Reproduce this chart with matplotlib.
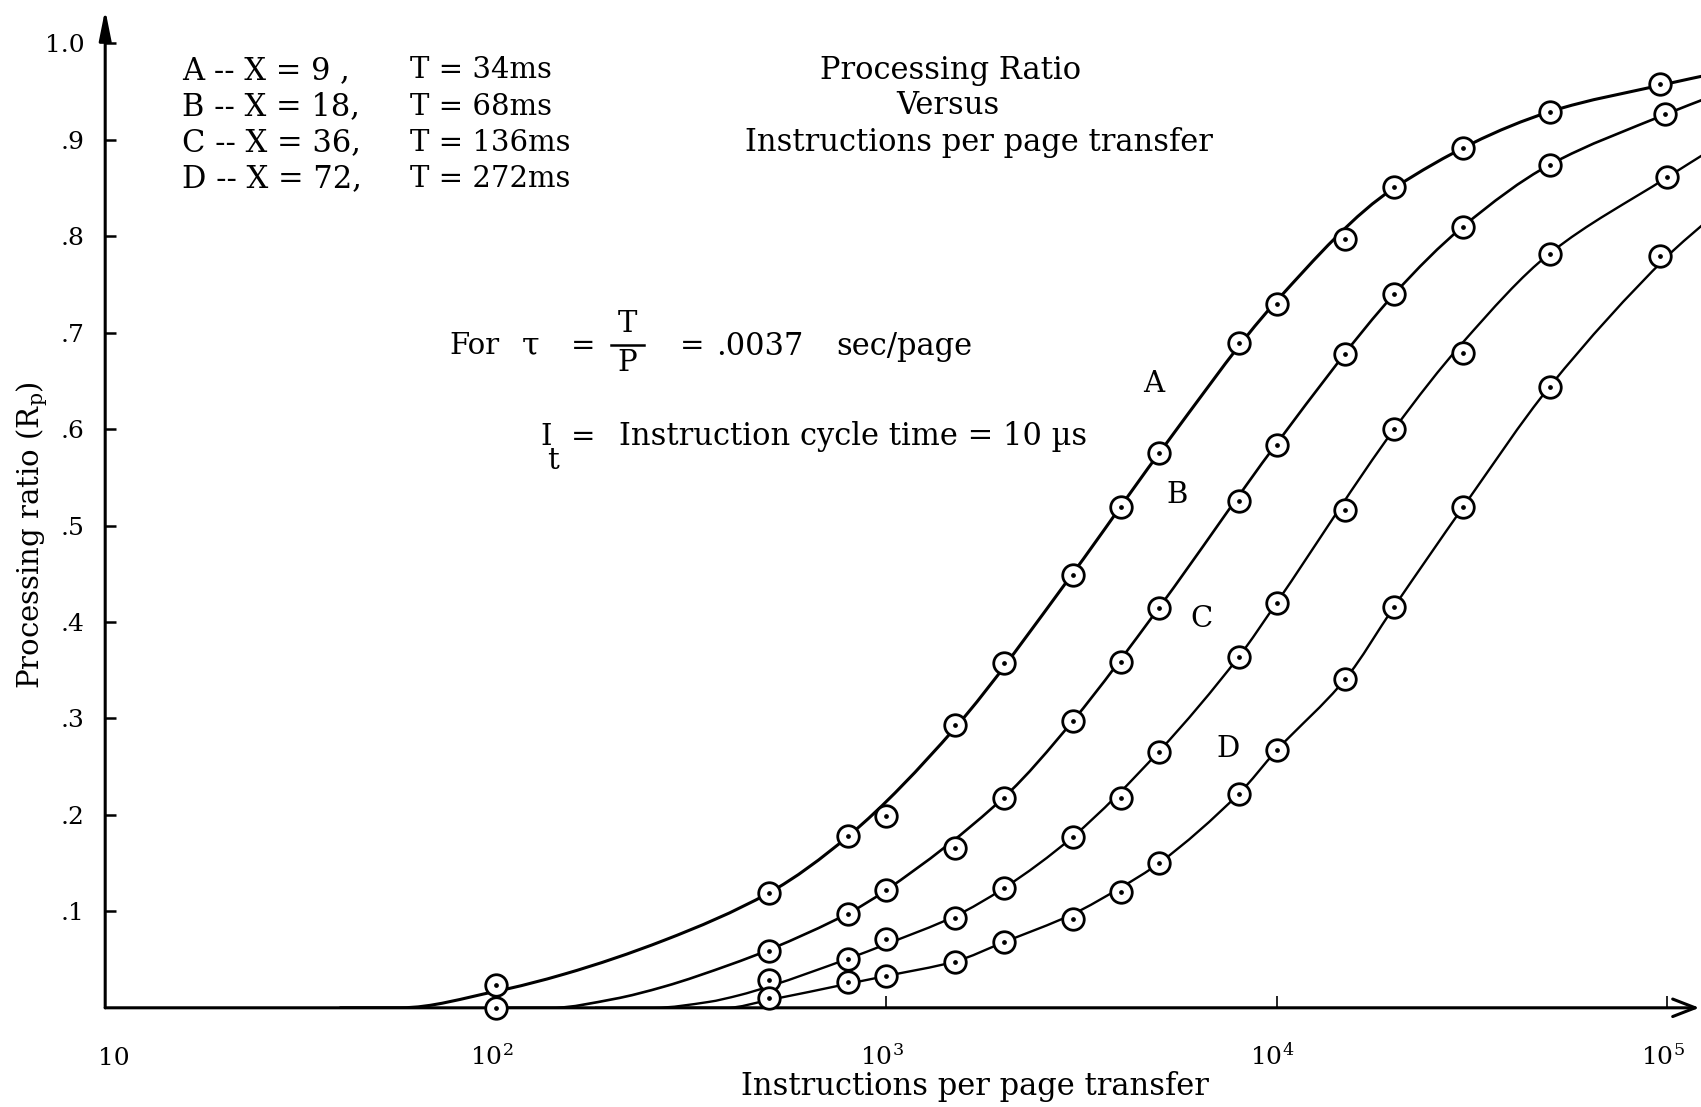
import numpy as np
import matplotlib
matplotlib.use("Agg")
import matplotlib.pyplot as plt
from matplotlib.path import Path
from matplotlib.patches import PathPatch
from matplotlib.transforms import offset_copy

plt.rcParams["font.family"] = "DejaVu Serif"
plt.rcParams["mathtext.fontset"] = "dejavuserif"

# measured points (instructions per page transfer, processing ratio)
A_X = [100, 500, 800, 1000, 1500, 2000, 3000, 4000, 5000, 8000, 10000, 15000, 20000, 30000, 50000, 96000]
A_Y = [0.024, 0.119, 0.178, 0.199, 0.293, 0.357, 0.449, 0.519, 0.575, 0.689, 0.730, 0.797, 0.851, 0.891, 0.929, 0.958]

B_X = [100, 500, 800, 1000, 1500, 2000, 3000, 4000, 5000, 8000, 10000, 15000, 20000, 30000, 50000, 99000]
B_Y = [0.0, 0.059, 0.097, 0.122, 0.166, 0.217, 0.297, 0.359, 0.414, 0.525, 0.584, 0.678, 0.740, 0.810, 0.874, 0.927]

C_X = [500, 800, 1000, 1500, 2000, 3000, 4000, 5000, 8000, 10000, 15000, 20000, 30000, 50000, 100000]
C_Y = [0.029, 0.051, 0.071, 0.093, 0.124, 0.177, 0.218, 0.265, 0.364, 0.420, 0.516, 0.600, 0.679, 0.782, 0.861]

D_X = [500, 800, 1000, 1500, 2000, 3000, 4000, 5000, 8000, 10000, 15000, 20000, 30000, 50000, 96000]
D_Y = [0.010, 0.027, 0.033, 0.047, 0.068, 0.092, 0.120, 0.150, 0.222, 0.267, 0.341, 0.416, 0.519, 0.644, 0.779]

# hand-drawn curves, knots
CURVE_A_X = [40, 57, 100, 150, 270, 500, 800, 1500, 3000, 5000, 10000, 20000, 50000, 100000, 130000]
CURVE_A_Y = [0.0, 0.0, 0.017, 0.035, 0.070, 0.119, 0.178, 0.290, 0.450, 0.575, 0.733, 0.850, 0.929, 0.958, 0.968]

CURVE_B_X = [100, 140, 200, 270, 400, 500, 800, 1000, 2000, 3000, 5000, 10000, 20000, 30000, 50000, 100000, 130000]
CURVE_B_Y = [0.0, 0.0, 0.009, 0.022, 0.045, 0.060, 0.098, 0.122, 0.218, 0.297, 0.415, 0.585, 0.740, 0.810, 0.874, 0.927, 0.945]

CURVE_C_X = [180, 255, 350, 420, 500, 800, 1000, 1500, 2000, 3000, 5000, 8000, 10000, 20000, 30000, 50000, 100000, 130000]
CURVE_C_Y = [0.0, 0.0, 0.006, 0.013, 0.022, 0.051, 0.066, 0.095, 0.124, 0.177, 0.266, 0.364, 0.420, 0.600, 0.690, 0.782, 0.861, 0.890]

CURVE_D_X = [300, 390, 500, 800, 1000, 1500, 2000, 3000, 4000, 5000, 8000, 10000, 15000, 20000, 30000, 50000, 100000, 130000]
CURVE_D_Y = [0.0, 0.0, 0.008, 0.025, 0.033, 0.048, 0.068, 0.097, 0.125, 0.150, 0.222, 0.267, 0.341, 0.416, 0.519, 0.644, 0.779, 0.820]

Y_TICKS = [0.1, 0.2, 0.3, 0.4, 0.5, 0.6, 0.7, 0.8, 0.9, 1.0]
Y_TICK_LABELS = [".1", ".2", ".3", ".4", ".5", ".6", ".7", ".8", ".9", "1.0"]
X_TICKS = [100, 1000, 10000, 100000]
X_LABEL_POS = [10, 100, 1000, 10000, 100000]
X_LABELS = ["10", r"$\mathregular{10^{2}}$", r"$\mathregular{10^{3}}$",
            r"$\mathregular{10^{4}}$", r"$\mathregular{10^{5}}$"]

LEGEND_LEFT = ["A -- X = 9 ,", "B -- X = 18,", "C -- X = 36,", "D -- X = 72,"]
LEGEND_RIGHT = ["T = 34ms", "T = 68ms", "T = 136ms", "T = 272ms"]

W_PX, H_PX = 1701, 1107
FS = 21  # body text size


def fxy(x, y):
    """pixel position (from top-left) -> figure fraction"""
    return x / W_PX, 1 - y / H_PX


def smooth_path(xs, ys):
    """Monotone cubic Bezier through the knots, built in log10(x) space."""
    u = np.log10(np.asarray(xs, dtype=float))
    y = np.asarray(ys, dtype=float)
    d = np.diff(y) / np.diff(u)
    m = np.zeros_like(y)
    m[0], m[-1] = d[0], d[-1]
    for i in range(1, len(y) - 1):
        if d[i - 1] * d[i] > 0:
            m[i] = 2.0 / (1.0 / d[i - 1] + 1.0 / d[i])
    verts = [(u[0], y[0])]
    codes = [Path.MOVETO]
    for i in range(len(y) - 1):
        h = u[i + 1] - u[i]
        verts += [(u[i] + h / 3, y[i] + m[i] * h / 3),
                  (u[i + 1] - h / 3, y[i + 1] - m[i + 1] * h / 3),
                  (u[i + 1], y[i + 1])]
        codes += [Path.CURVE4] * 3
    verts = np.array(verts)
    verts[:, 0] = 10 ** verts[:, 0]
    return Path(verts, codes)


fig = plt.figure(figsize=(W_PX / 100, H_PX / 100), dpi=100)
ax_left = 105.2 / W_PX
ax_bottom = 1 - 1007.8 / H_PX
ax = fig.add_axes([ax_left, ax_bottom, 1 - ax_left, 0.9018])
ax.set_xscale("log")
ax.set_xlim(10, 10 ** 5.0866)
ax.set_ylim(0, 1.035)

for spine in ax.spines.values():
    spine.set_visible(False)

# axes drawn as arrows
ax.annotate("", xy=(0, 1.0), xytext=(0, 0), xycoords="axes fraction",
            textcoords="axes fraction", annotation_clip=False,
            arrowprops=dict(arrowstyle="-|>,head_length=1.0,head_width=0.2",
                            color="black", lw=2.2, shrinkA=0, shrinkB=0,
                            mutation_scale=18))
ax.annotate("", xy=(0.999, 0), xytext=(0, 0), xycoords="axes fraction",
            textcoords="axes fraction", annotation_clip=False,
            arrowprops=dict(arrowstyle="->,head_length=0.9,head_width=0.35",
                            color="black", lw=2.2, shrinkA=0, shrinkB=0,
                            mutation_scale=18))

ax.set_yticks(Y_TICKS)
ax.set_yticklabels(Y_TICK_LABELS, fontsize=18)
ax.set_xticks(X_TICKS)
ax.set_xticklabels([])
ax.minorticks_off()
ax.tick_params(axis="y", direction="in", length=8, width=1.8, pad=15)
ax.tick_params(axis="x", direction="in", length=9, width=1.2)

for pos, lab in zip(X_LABEL_POS, X_LABELS):
    dx = 6 if pos == 10 else -3
    tr = offset_copy(ax.get_xaxis_transform(), fig=fig, x=dx, y=0, units="points")
    ax.text(pos, -0.057, lab, transform=tr, ha="center", va="baseline", fontsize=18)

# fitted curves
for cx, cy, lw in [(CURVE_A_X, CURVE_A_Y, 2.2), (CURVE_B_X, CURVE_B_Y, 1.9),
                   (CURVE_C_X, CURVE_C_Y, 1.7), (CURVE_D_X, CURVE_D_Y, 1.7)]:
    ax.add_patch(PathPatch(smooth_path(cx, cy), facecolor="none", edgecolor="black",
                           lw=lw, capstyle="round", zorder=2))

# data points: open circle with a centre dot
for xs, ys in [(A_X, A_Y), (B_X, B_Y), (C_X, C_Y), (D_X, D_Y)]:
    ax.plot(xs, ys, ls="none", marker="o", ms=15.5, mfc="white", mec="black",
            mew=2.0, zorder=3, clip_on=False)
    ax.plot(xs, ys, ls="none", marker="o", ms=2.4, color="black", zorder=4, clip_on=False)

# curve labels
for lab, (px, py) in zip("ABCD", [(1154, 384), (1177, 495), (1201, 619), (1228, 749)]):
    fig.text(*fxy(px, py), lab, fontsize=FS, ha="center", va="center")

# parameter key
for i, (left, right) in enumerate(zip(LEGEND_LEFT, LEGEND_RIGHT)):
    y = 70.5 + i * 36.2
    fig.text(*fxy(182, y), left, fontsize=FS + 1, ha="left", va="center")
    fig.text(*fxy(410, y), right, fontsize=FS, ha="left", va="center")

# title block
fig.text(*fxy(951, 70.5), "Processing Ratio", fontsize=22, ha="center", va="center")
fig.text(*fxy(948, 106), "Versus", fontsize=22, ha="center", va="center")
fig.text(*fxy(979, 143), "Instructions per page transfer", fontsize=22,
         ha="center", va="center")

# constants
fig.text(*fxy(449, 346), "For", fontsize=FS, ha="left", va="center")
fig.text(*fxy(531, 346), "τ", fontsize=FS + 2, ha="center", va="center")
fig.text(*fxy(583, 346), "=", fontsize=FS, ha="center", va="center")
fig.text(*fxy(627, 324), "T", fontsize=FS, ha="center", va="center")
fig.text(*fxy(627, 363), "P", fontsize=FS, ha="center", va="center")
fig.add_artist(plt.Line2D([611 / W_PX, 644 / W_PX], [1 - 345 / H_PX] * 2,
                          color="black", lw=1.8, transform=fig.transFigure))
fig.text(*fxy(692, 346), "=", fontsize=FS, ha="center", va="center")
fig.text(*fxy(716, 346), ".0037", fontsize=FS + 1, ha="left", va="center")
fig.text(*fxy(836, 346), "sec/page", fontsize=FS + 1, ha="left", va="center")

fig.text(*fxy(546, 437), "I", fontsize=FS, ha="center", va="center")
fig.text(*fxy(553, 461), "t", fontsize=FS, ha="center", va="center")
fig.text(*fxy(583, 437), "=", fontsize=FS, ha="center", va="center")
fig.text(*fxy(619, 437), "Instruction cycle time = 10 µs", fontsize=22,
         ha="left", va="center")

# axis titles
fig.text(*fxy(975, 1087), "Instructions per page transfer", fontsize=22,
         ha="center", va="center")
fig.text(*fxy(32, 535), r"Processing ratio (R$_{\mathregular{p}}$)", fontsize=21,
         ha="center", va="center", rotation=90)

fig.savefig("out.png", dpi=100, facecolor="white")
